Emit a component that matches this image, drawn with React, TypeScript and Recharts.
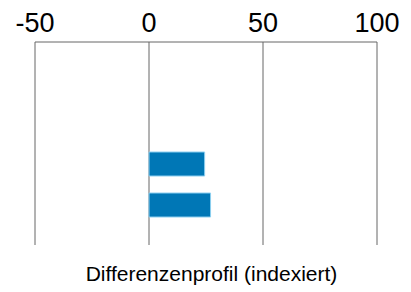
import { BarChart, Bar, XAxis, YAxis, CartesianGrid } from 'recharts';

const groups = ['Gruppe 1', 'Gruppe 2'];
const values = [24.4, 27.0];
const xTicks = [-50, 0, 50, 100];

const data = groups.map((g, i) => ({ name: g, value: values[i] }));

export default function App() {
    return (
        <div style={{ position: 'absolute', left: 0, top: 0, width: 411, height: 292, background: '#fff', fontFamily: '"Liberation Sans", Arial, sans-serif' }}>
            <BarChart
                width={411}
                height={292}
                data={data}
                layout="vertical"
                margin={{ top: 12, right: 34, left: 35, bottom: 47 }}
            >
                <CartesianGrid horizontal={false} stroke="#666" strokeWidth={1} />
                <XAxis
                    type="number"
                    orientation="top"
                    domain={[-50, 100]}
                    ticks={xTicks}
                    height={30}
                    tickLine={false}
                    axisLine={{ stroke: '#666' }}
                    tick={{ fontSize: 27, fill: '#000', fontFamily: '"Liberation Sans", Arial, sans-serif' }}
                    tickMargin={4}
                />
                <YAxis type="category" dataKey="name" hide padding={{ top: 101, bottom: 20 }} />
                <Bar dataKey="value" fill="#0077b6" stroke="#8ccff0" strokeWidth={1} barSize={24} isAnimationActive={false} />
            </BarChart>
            <div style={{ position: 'absolute', left: 6, width: 411, top: 262, textAlign: 'center', fontSize: 21, color: '#000' }}>
                Differenzenprofil (indexiert)
            </div>
        </div>
    );
}
